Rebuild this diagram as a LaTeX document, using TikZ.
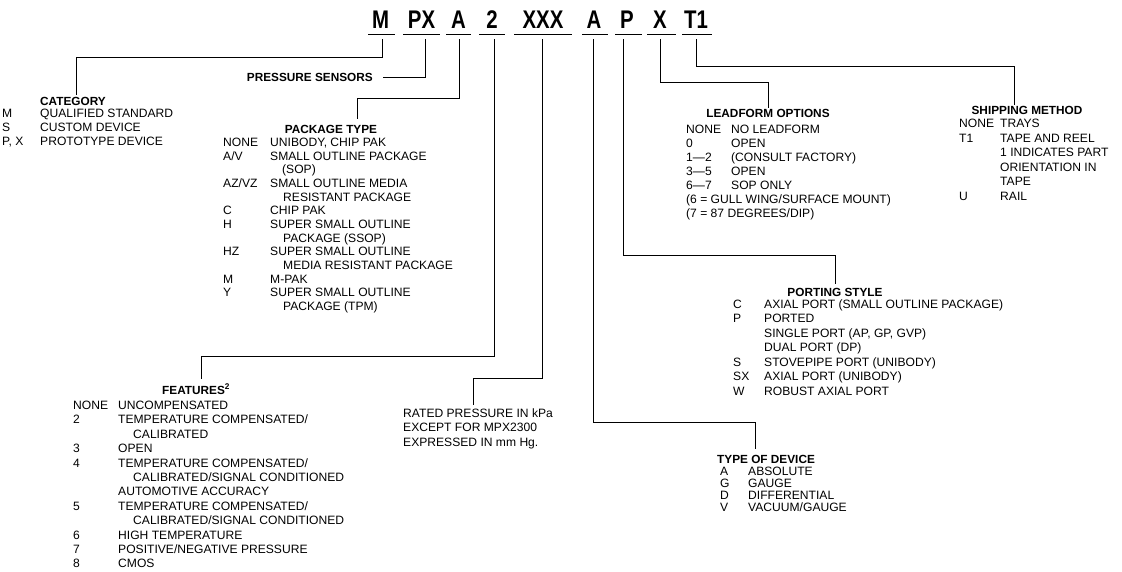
\documentclass[tikz,border=0pt]{standalone}
\usepackage{fontspec}
\setmainfont{Liberation Sans}
\usepackage{graphicx}
\usepackage{array}
\newcommand\listblk[3]{\fontsize{12.1}{#1}\selectfont\begin{tabular}[t]{@{}p{#2}@{}l@{}}#3\end{tabular}}
\newcommand\ind[1]{\hspace*{#1}}
\newcommand\code[1]{\scalebox{.8}[1]{#1}}
\tikzset{
  big/.style={font=\fontsize{25.5}{26}\selectfont\bfseries, inner sep=0pt, anchor=base},
  hdr/.style={font=\fontsize{11.8}{14}\selectfont\bfseries, inner sep=0pt},
  tbl/.style={inner sep=0pt, anchor=base west},
  conn/.style={line width=0.9pt},
  uline/.style={line width=0.9pt},
}
\begin{document}
\begin{tikzpicture}[x=1pt,y=-1pt]
\useasboundingbox (0,0) rectangle (1122,571);
\fill[white] (0,0) rectangle (1122,571);

% code letters
\node[big] (lM)  at (380.5,28) {\code{M}};
\node[big] (lPX) at (421.5,28) {\code{PX}};
\node[big] (lA)  at (458.5,28) {\code{A}};
\node[big] (l2)  at (492,28)   {\code{2}};
\node[big] (lXXX) at (543,28)  {\code{XXX}};
\node[big] (lA2) at (594,28)   {\code{A}};
\node[big] (lP)  at (627,28)   {\code{P}};
\node[big] (lX)  at (660,28)   {\code{X}};
\node[big] (lT)  at (696,28)   {\code{T1}};

\draw[uline] (368,34) -- (395,34);
\draw[uline] (403,34) -- (440,34);
\draw[uline] (446,34) -- (471,34);
\draw[uline] (479,34) -- (505,34);
\draw[uline] (514,34) -- (572,34);
\draw[uline] (582,34) -- (608,34);
\draw[uline] (615,34) -- (642,34);
\draw[uline] (647,34) -- (676,34);
\draw[uline] (682,34) -- (712,34);

% category
\node[hdr, anchor=base west] (cat) at (40,105.3) {CATEGORY};
\node[tbl] (catlist) at (2,117.4) {\listblk{14}{38pt}{M & QUALIFIED STANDARD\\ S & CUSTOM DEVICE\\ P, X & PROTOTYPE DEVICE}};

% pressure sensors
\node[hdr, anchor=base east] (ps) at (373,81.3) {PRESSURE SENSORS};

% package type
\node[hdr, anchor=base] (pkg) at (331,133.3) {PACKAGE TYPE};
\node[tbl] (pkglist) at (223,146.4) {\listblk{13.67}{47pt}{NONE & UNIBODY, CHIP PAK\\
A/V & SMALL OUTLINE PACKAGE\\
 & \ind{12pt}(SOP)\\
AZ/VZ & SMALL OUTLINE MEDIA\\
 & \ind{13pt}RESISTANT PACKAGE\\
C & CHIP PAK\\
H & SUPER SMALL OUTLINE\\
 & \ind{13pt}PACKAGE (SSOP)\\
HZ & SUPER SMALL OUTLINE\\
 & \ind{13pt}MEDIA RESISTANT PACKAGE\\
M & M-PAK\\
Y & SUPER SMALL OUTLINE\\
 & \ind{13pt}PACKAGE (TPM)}};

% features
\node[hdr, anchor=base west] (feat) at (162,394.3) {FEATURES\textsuperscript{2}};
\node[tbl] (featlist) at (73,409.4) {\listblk{14.4}{45pt}{NONE & UNCOMPENSATED\\
2 & TEMPERATURE COMPENSATED/\\
 & \ind{15pt}CALIBRATED\\
3 & OPEN\\
4 & TEMPERATURE COMPENSATED/\\
 & \ind{15pt}CALIBRATED/SIGNAL CONDITIONED\\
 & AUTOMOTIVE ACCURACY\\
5 & TEMPERATURE COMPENSATED/\\
 & \ind{15pt}CALIBRATED/SIGNAL CONDITIONED\\
6 & HIGH TEMPERATURE\\
7 & POSITIVE/NEGATIVE PRESSURE\\
8 & CMOS}};

% rated pressure
\node[tbl] (rated) at (403,417.4) {\fontsize{12.1}{14.4}\selectfont\begin{tabular}[t]{@{}l@{}}RATED PRESSURE IN kPa\\ EXCEPT FOR MPX2300\\ EXPRESSED IN mm Hg.\end{tabular}};

% type of device
\node[hdr, anchor=base west] (type) at (717,463.3) {TYPE OF DEVICE};
\node[tbl] (typelist) at (720,475.6) {\listblk{11.3}{28pt}{A & ABSOLUTE\\ G & GAUGE\\ D & DIFFERENTIAL\\ V & VACUUM/GAUGE}};

% leadform
\node[hdr, anchor=base] (lead) at (768,117.3) {LEADFORM OPTIONS};
\node[tbl] (leadlist) at (686,133.4) {\listblk{14}{45pt}{NONE & NO LEADFORM\\
0 & OPEN\\
1—2 & (CONSULT FACTORY)\\
3—5 & OPEN\\
6—7 & SOP ONLY\\
\multicolumn{2}{@{}l@{}}{(6 = GULL WING/SURFACE MOUNT)}\\
\multicolumn{2}{@{}l@{}}{(7 = 87 DEGREES/DIP)}}};

% shipping
\node[hdr, anchor=base] (ship) at (1027,114.3) {SHIPPING METHOD};
\node[tbl] (shiplist) at (959,127.4) {\listblk{14.6}{41pt}{NONE & TRAYS\\
T1 & TAPE AND REEL\\
 & 1 INDICATES PART\\
 & ORIENTATION IN\\
 & TAPE\\
U & RAIL}};

% porting
\node[hdr, anchor=base] (port) at (835,296.3) {PORTING STYLE};
\node[tbl] (portlist) at (733,308.4) {\listblk{14.5}{31pt}{C & AXIAL PORT (SMALL OUTLINE PACKAGE)\\
P & PORTED\\
 & SINGLE PORT (AP, GP, GVP)\\
 & DUAL PORT (DP)\\
S & STOVEPIPE PORT (UNIBODY)\\
SX & AXIAL PORT (UNIBODY)\\
W & ROBUST AXIAL PORT}};

% connector ends
\coordinate (vM) at (382,39);
\coordinate (vPX) at (425,39);
\coordinate (vA) at (459,39);
\coordinate (v2) at (494,39);
\coordinate (vX3) at (542,39);
\coordinate (vA2) at (593,39);
\coordinate (vP) at (623,39);
\coordinate (vX) at (660,39);
\coordinate (vT) at (696,39);

\coordinate (catTop) at (76,95);
\coordinate (psEnd) at (383,77);
\coordinate (pkgTop) at (357,119);
\coordinate (featTop) at (201,379);
\coordinate (ratedTop) at (473,405);
\coordinate (typeTop) at (755,449);
\coordinate (portTop) at (835,284);
\coordinate (leadTop) at (768,108);
\coordinate (shipTop) at (1014,105);

\draw[conn] (vM) -- ++(0,18) -| (catTop);
\draw[conn] (vPX) |- (psEnd);
\draw[conn] (vA) -- ++(0,59) -| (pkgTop);
\draw[conn] (v2) -- ++(0,317) -| (featTop);
\draw[conn] (vX3) -- ++(0,339) -| (ratedTop);
\draw[conn] (vA2) -- ++(0,383) -| (typeTop);
\draw[conn] (vP) -- ++(0,216) -| (portTop);
\draw[conn] (vX) -- ++(0,43) -| (leadTop);
\draw[conn] (vT) -- ++(0,27) -| (shipTop);
\end{tikzpicture}
\end{document}
